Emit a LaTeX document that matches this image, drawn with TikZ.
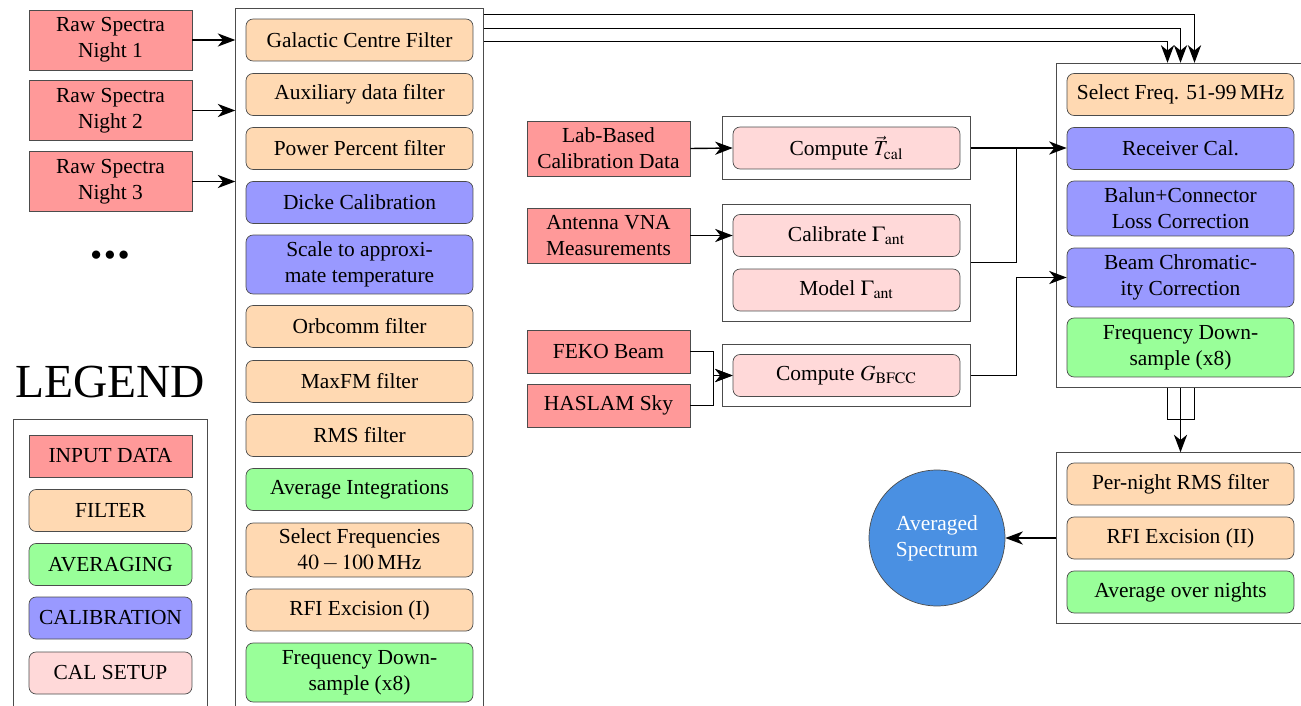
\documentclass[tikz,border=0pt]{standalone}
\usepackage{mathptmx}
\usepackage{fontspec}
\setmainfont{Liberation Serif}
\usetikzlibrary{fit,arrows.meta}
\definecolor{specblue}{RGB}{74,144,226}

\begin{document}
\begin{tikzpicture}
    [x=0.02cm,y=-0.02cm,>={Stealth[length=10pt,width=7.5pt,inset=3pt]},
    font=\fontsize{12.2}{14.8}\selectfont,
    input/.style={rectangle,draw=black!70,fill=red!40,minimum width=3.26cm,minimum height=0.86cm,align=center,inner sep=2pt},
    stage/.style={rectangle,rounded corners=4pt,draw=black!70,minimum width=4.54cm,minimum height=0.84cm,align=center,inner sep=2pt},
    filter/.style={stage,fill=orange!30},
    average/.style={stage,fill=green!40},
    calib/.style={stage,fill=blue!40},
    calsetup/.style={stage,fill=red!15},
    group/.style={rectangle,draw=black!70,inner sep=0.2cm},
    flow/.style={->,line width=0.8pt}]

    \useasboundingbox (0,0) rectangle (1301,706);

    % raw data of each night
    \node[input,minimum height=1.2cm] (night1) at (110.5,40)    {Raw Spectra\\Night 1};
    \node[input,minimum height=1.2cm] (night2) at (110.5,110.5) {Raw Spectra\\Night 2};
    \node[input,minimum height=1.2cm] (night3) at (110.5,181.5) {Raw Spectra\\Night 3};
    \node (dots) at (110,256) {$\bullet\bullet\bullet$};

    % per-file pipeline
    \node[filter] (gcf)      at (359.5,40)    {Galactic Centre Filter};
    \node[filter] (aux)      at (359.5,94.5)  {Auxiliary data filter};
    \node[filter] (power)    at (359.5,148.5) {Power Percent filter};
    \node[calib]  (dicke)    at (359.5,202.5) {Dicke Calibration};
    \node[calib,minimum height=1.18cm] (scale) at (359.5,264.5) {Scale to approxi-\\mate temperature};
    \node[filter] (orbcomm)  at (359.5,326.5) {Orbcomm filter};
    \node[filter] (maxfm)    at (359.5,381.5) {MaxFM filter};
    \node[filter] (rms)      at (359.5,435.5) {RMS filter};
    \node[average] (avgint)  at (359.5,489.5) {Average Integrations};
    \node[filter,minimum height=1.08cm] (selfreq) at (359.5,550) {Select Frequencies\\$40-100$\,MHz};
    \node[filter] (rfi1)     at (359.5,610)   {RFI Excision (I)};
    \node[average,minimum height=1.18cm] (down1) at (359.5,672.5) {Frequency Down-\\sample (x8)};
    \node[group,fit=(gcf)(down1)] (column) {};

    % legend
    \node[font=\fontsize{27}{30}\selectfont] (legendtitle) at (110,382) {LEGEND};
    \node[input,minimum height=0.84cm] (kinput) at (110.5,456) {INPUT DATA};
    \node[filter,minimum width=3.26cm]   (kfilter) at (110.5,510.5) {FILTER};
    \node[average,minimum width=3.26cm]  (kaverage) at (110.5,564.5) {AVERAGING};
    \node[calib,minimum width=3.26cm]    (kcalib) at (110.5,618) {CALIBRATION};
    \node[calsetup,minimum width=3.26cm] (ksetup) at (110.5,673) {CAL SETUP};
    \node[group,inner sep=0.3cm,fit=(kinput)(ksetup)] (legend) {};

    % calibration setup
    \node[input,minimum height=1.1cm] (lab) at (608.5,148.5) {Lab-Based\\Calibration Data};
    \node[input,minimum height=1.1cm] (vna) at (608.5,235.5) {Antenna VNA\\Measurements};
    \node[input] (feko)   at (608.5,351.5) {FEKO Beam};
    \node[input] (haslam) at (608.5,405.5) {HASLAM Sky};
    \node[calsetup] (tcal)   at (846.5,148)   {Compute $\vec{T}_{\mathrm{cal}}$};
    \node[calsetup] (calgam) at (846.5,235.5) {Calibrate $\Gamma_{\mathrm{ant}}$};
    \node[calsetup] (modgam) at (846.5,290)   {Model $\Gamma_{\mathrm{ant}}$};
    \node[calsetup] (gbfcc)  at (846.5,375.5) {Compute $G_{\mathrm{BFCC}}$};
    \node[group,fit=(tcal)] (tcalbox) {};
    \node[group,fit=(calgam)(modgam)] (gammabox) {};
    \node[group,fit=(gbfcc)] (beambox) {};

    % per-night pipeline
    \node[filter] (selband) at (1180.5,94.5)  {Select Freq. 51-99\,MHz};
    \node[calib]  (recv)    at (1180.5,148.5) {Receiver Cal.};
    \node[calib,minimum height=1.1cm]    (balun) at (1180.5,208.5) {Balun+Connector\\Loss Correction};
    \node[calib,minimum height=1.18cm]   (chrom) at (1180.5,277.5) {Beam Chromatic-\\ity Correction};
    \node[average,minimum height=1.18cm] (down2) at (1180.5,347.5) {Frequency Down-\\sample (x8)};
    \node[group,fit=(selband)(down2)] (pernight) {};

    % combining the nights
    \node[filter]  (nightrms)  at (1180.5,484) {Per-night RMS filter};
    \node[filter]  (rfi2)      at (1180.5,538) {RFI Excision (II)};
    \node[average] (avgnights) at (1180.5,592) {Average over nights};
    \node[group,fit=(nightrms)(avgnights)] (combine) {};
    \node[circle,draw=black!70,fill=specblue,text=white,minimum size=2.72cm,align=center] (spectrum) at (937,538) {Averaged\\Spectrum};

    \draw[flow] (night1.east) -- (night1.east -| column.west);
    \draw[flow] (night2.east) -- (night2.east -| column.west);
    \draw[flow] (night3.east) -- (night3.east -| column.west);

    \coordinate (out1) at ([yshift=-0.12cm]column.north east);
    \coordinate (out2) at ([yshift=-0.4cm]column.north east);
    \coordinate (out3) at ([yshift=-0.66cm]column.north east);
    \draw[flow] (out1) -| ([xshift=0.28cm]pernight.north);
    \draw[flow] (out2) -| (pernight.north);
    \draw[flow] (out3) -| ([xshift=-0.26cm]pernight.north);

    \draw[flow] (lab.east) -- (tcal.west);
    \draw[flow] (vna.east) -- (calgam.west);
    \draw[flow] (feko.east) -- ++(23,0) |- (gbfcc.west);
    \draw[flow] (haslam.east) -- ++(23,0) |- (gbfcc.west);
    \draw[flow] (tcalbox.east) -- (tcalbox.east -| recv.west);
    \draw[line width=0.8pt] (gammabox.east) -| ([xshift=-1cm]recv.west);
    \draw[flow] (beambox.east) -| ([xshift=-1cm]chrom.west) -- (chrom.west);

    \coordinate (merge) at ([yshift=-0.64cm]pernight.south);
    \draw[line width=0.8pt] ([xshift=-0.26cm]pernight.south) |- (merge) -| ([xshift=0.28cm]pernight.south);
    \draw[flow] (pernight.south) -- (combine.north);
    \draw[flow] (combine.west) -- (spectrum);
\end{tikzpicture}
\end{document}
